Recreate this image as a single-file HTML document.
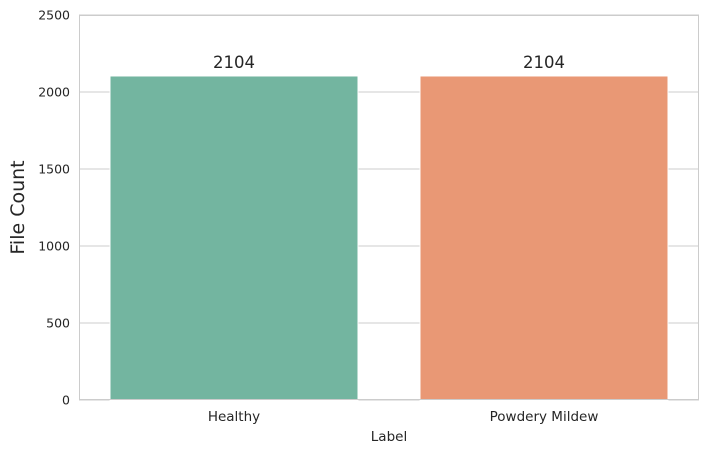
<!DOCTYPE html>
<html><head><meta charset="utf-8"><style>
body{margin:0;background:#fff;}
svg text{font-family:"DejaVu Sans","Liberation Sans",sans-serif;fill:#262626;}
</style></head><body>
<svg id="chart" width="709" height="453" xmlns="http://www.w3.org/2000/svg"></svg>
<script>
const categories=["Healthy","Powdery Mildew"];
const counts=[2104,2104];
const yTicks=[0,500,1000,1500,2000,2500];
const colors=["#73b5a0","#e99875"];
const svg=document.getElementById('chart');
const NS="http://www.w3.org/2000/svg";
const L=79,R=699,T=15,B=400,yMax=2500;
const y=v=>B-(v/yMax)*(B-T);
const band=(R-L)/categories.length;
const xc=i=>L+band*(i+0.5);
function mk(tag,attrs,txt){const e=document.createElementNS(NS,tag);for(const k in attrs)e.setAttribute(k,attrs[k]);if(txt!==undefined)e.textContent=txt;svg.appendChild(e);return e;}
let bg=mk('rect',{x:L,y:T,width:R-L,height:B-T,fill:'#fff'});


yTicks.forEach(t=>{
 let g=mk('line',{x1:L,x2:R,y1:y(t),y2:y(t),stroke:'#cccccc','stroke-width':1});
 
 
 let lb=mk('text',{x:L-9,y:y(t)+4.5,'text-anchor':'end','font-size':12.5},t);
 
 
});
categories.forEach((c,i)=>{
 const w=band*0.8;
 let b=mk('rect',{x:xc(i)-w/2,y:y(counts[i]),width:w,height:B-y(counts[i]),fill:colors[i],stroke:'#ffffff','stroke-width':1});
 
 
 let v=mk('text',{x:xc(i),y:y(counts[i])-8,'text-anchor':'middle','font-size':16.5},counts[i]);
 
 
 let xl=mk('text',{x:xc(i),y:B+21,'text-anchor':'middle','font-size':13.5},c);
 
 
});
let fr=mk('rect',{x:L+0.5,y:T+0.5,width:R-L-1,height:B-T-1,fill:'none',stroke:'#cccccc','stroke-width':1});


let xt=mk('text',{x:(L+R)/2,y:441,'text-anchor':'middle','font-size':13.5},'Label');


let yt=mk('text',{x:24,y:(T+B)/2,'text-anchor':'middle','font-size':19,transform:`rotate(-90 24 ${(T+B)/2})`},'File Count');


</script>
</body></html>
